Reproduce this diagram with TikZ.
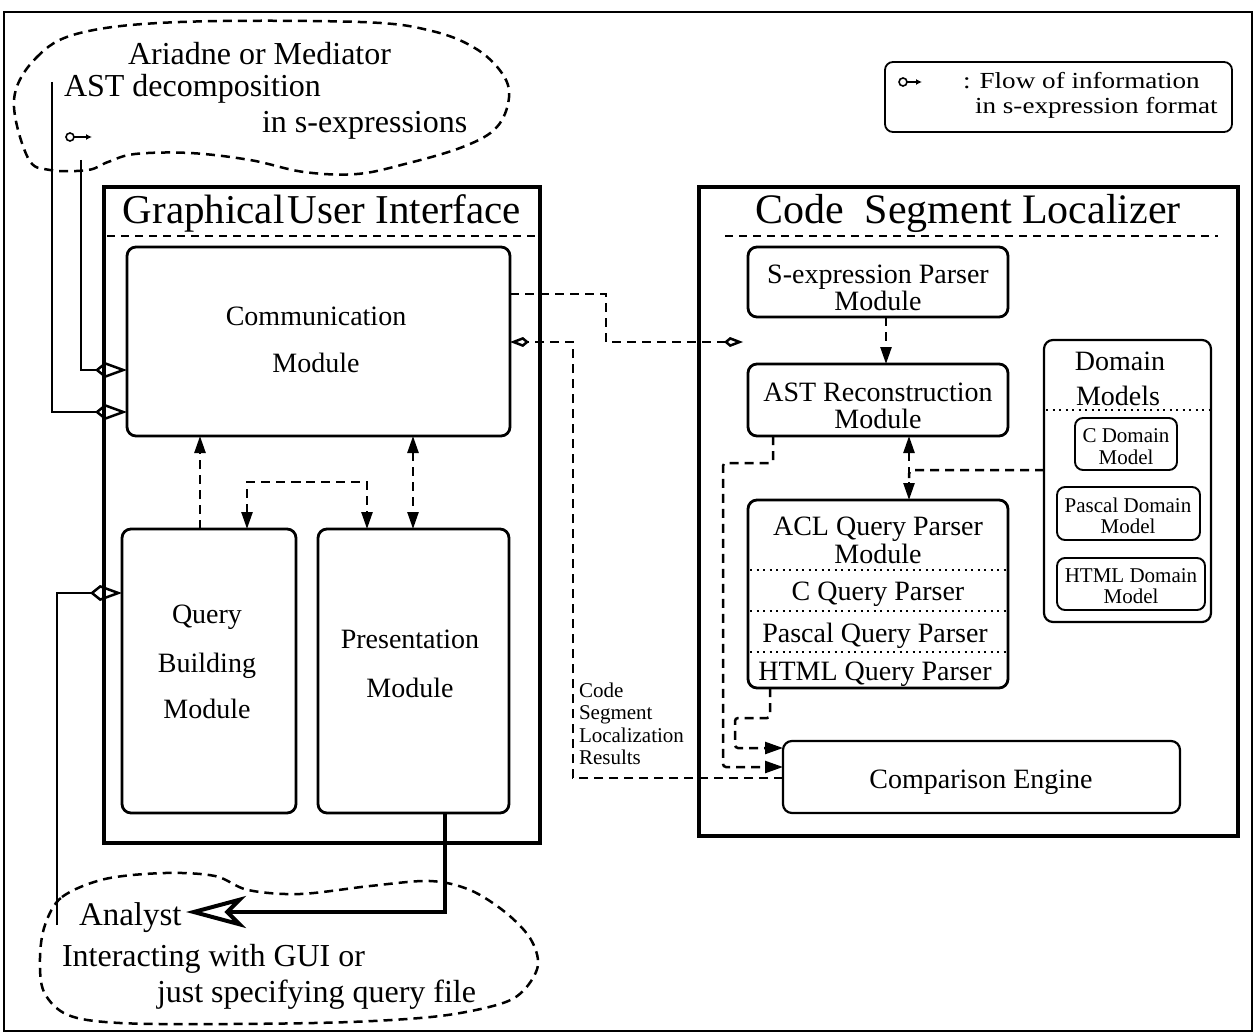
\documentclass[tikz,border=0pt]{standalone}
\usepackage{fontspec}
\setmainfont{Liberation Serif}
\usetikzlibrary{arrows.meta,fit}

\begin{document}
\begin{tikzpicture}[x=1pt,y=-1pt,
  every node/.style={inner sep=0pt, outer sep=0pt},
  frame/.style={draw, line width=4pt},
  modbox/.style={draw, line width=2.8pt, rounded corners=9pt},
  subbox/.style={draw, line width=1.9pt, rounded corners=8pt},
  dsh/.style={line width=2.5pt, dash pattern=on 9pt off 6pt},
  dots/.style={line width=1.8pt, dash pattern=on 2pt off 4.5pt},
  solid line/.style={line width=2.5pt},
  tri/.tip={Triangle[length=17pt,width=11pt]},
  smalltri/.tip={Triangle[length=18pt,width=12pt]},
  bigkite/.tip={Kite[open,length=32pt,width=16pt,inset=10pt]},
  smallkite/.tip={Kite[open,length=19pt,width=10pt,inset=6pt]},
  bigtitle/.style={font=\fontsize{41}{44}\selectfont, anchor=base},
  ctext/.style={font=\fontsize{32}{34}\selectfont, anchor=base west},
  mtxt/.style={font=\fontsize{28}{30}\selectfont, anchor=base},
  stxt/.style={font=\fontsize{21}{23}\selectfont, anchor=base},
  ltxt/.style={font=\fontsize{23}{25}\selectfont, anchor=base west},
  rtxt/.style={font=\fontsize{21}{23}\selectfont, anchor=base west}
]
\useasboundingbox (0,0) rectangle (1257,1035);

% page frame
\draw[line width=1.6pt] (4,12) rectangle (1252,1031);

% ---------- external tool cloud ----------
\draw[dsh] plot[smooth cycle, tension=0.6] coordinates {
  (14,100) (36,58) (80,33) (180,22) (360,22) (432,31) (478,50) (505,78)
  (508,104) (494,130) (460,148) (405,164) (357,174) (304,172) (250,160)
  (190,153) (135,154) (108,162) (88,170) (50,170) (28,158)};
\node[ctext] (ariadne) at (128,65) {Ariadne or Mediator};
\node[ctext] (astdec) at (64,97) {AST decomposition};
\node[ctext] (insexp) at (262,133) {in s-expressions};
\draw[line width=1.6pt] (70,137) circle (4);
\draw[line width=1.6pt, -{Latex[length=6pt,width=6pt]}] (74,137) -- (92,137);

% ---------- legend ----------
\node[draw, line width=1.8pt, rounded corners=8pt, fit={(885,62) (1232,132)}] (legend) {};
\draw[line width=1.6pt] (903,82) circle (4);
\draw[line width=1.6pt, -{Latex[length=6pt,width=6pt]}] (907,82) -- (922,82);
\node[ltxt] (leg1) at (963,89) {\scalebox{1.18}[1]{: Flow of information}};
\node[ltxt] (leg2) at (975,114) {\scalebox{1.18}[1]{in s-expression format}};

% ---------- graphical user interface ----------
\node[frame, fit={(104,187) (540,843)}] (gui) {};
\node[bigtitle] (guititle) at (322,223) {Graphical\hspace{0.08em}User Interface};
\draw[dsh, line width=2pt, dash pattern=on 8pt off 6pt] (107,236) -- (537,236);

\node[modbox, fit={(127,247) (510,436)}] (comm) {};
\node[mtxt] (comm1) at (316,325) {Communication};
\node[mtxt] (comm2) at (316,372) {Module};

\node[modbox, fit={(122,529) (296,813)}] (query) {};
\node[mtxt] (q1) at (207,623) {Query};
\node[mtxt] (q2) at (207,672) {Building};
\node[mtxt] (q3) at (207,718) {Module};

\node[modbox, fit={(318,529) (509,813)}] (pres) {};
\node[mtxt] (p1) at (410,648) {Presentation};
\node[mtxt] (p2) at (410,697) {Module};

% ---------- code segment localizer ----------
\node[frame, fit={(699,187) (1238,836)}] (csl) {};
\node[bigtitle, font=\fontsize{42}{44}\selectfont] (csltitle) at (968,223) {Code\hspace{0.5em}Segment Localizer};
\draw[dsh, line width=2pt, dash pattern=on 8pt off 6pt] (725,236) -- (1218,236);

\node[modbox, fit={(748,247) (1008,317)}] (sexp) {};
\node[mtxt] (s1) at (878,283) {S-expression Parser};
\node[mtxt] (s2) at (878,310) {Module};

\node[modbox, fit={(748,364) (1008,436)}] (ast) {};
\node[mtxt] (a1) at (878,401) {AST Reconstruction};
\node[mtxt] (a2) at (878,428) {Module};

\node[modbox, fit={(748,500) (1008,688)}] (acl) {};
\node[mtxt] (acl1) at (878,535) {ACL Query Parser};
\node[mtxt] (acl2) at (878,563) {Module};
\draw[dots] (750,570) -- (1006,570);
\node[mtxt] (cqp) at (878,600) {C Query Parser};
\draw[dots] (750,611) -- (1006,611);
\node[mtxt] (pqp) at (875,642) {Pascal Query Parser};
\draw[dots] (750,652) -- (1006,652);
\node[mtxt] (hqp) at (875,680) {HTML Query Parser};

\node[modbox, line width=2.2pt, fit={(1044,340) (1211,622)}] (dom) {};
\node[mtxt] (d1) at (1120,370) {Domain};
\node[mtxt] (d2) at (1118,405) {Models};
\draw[dots] (1046,410) -- (1209,410);
\node[subbox, fit={(1075,418) (1177,470)}] (cdom) {};
\node[stxt] (cd1) at (1126,442) {C Domain};
\node[stxt] (cd2) at (1126,464) {Model};
\node[subbox, fit={(1057,487) (1200,540)}] (pdom) {};
\node[stxt] (pd1) at (1128,512) {Pascal Domain};
\node[stxt] (pd2) at (1128,533) {Model};
\node[subbox, fit={(1057,558) (1205,610)}] (hdom) {};
\node[stxt] (hd1) at (1131,582) {HTML Domain};
\node[stxt] (hd2) at (1131,603) {Model};

\node[modbox, line width=2.2pt, fit={(783,741) (1180,813)}] (comp) {};
\node[mtxt] (comp1) at (981,788) {Comparison Engine};

% results label
\node[rtxt] (r1) at (579,697) {Code};
\node[rtxt] (r2) at (579,719) {Segment};
\node[rtxt] (r3) at (579,742) {Localization};
\node[rtxt] (r4) at (579,764) {Results};

% ---------- analyst cloud ----------
\draw[dsh] plot[smooth cycle, tension=0.55] coordinates {
  (45,925) (62,897) (105,879) (165,873) (215,876) (248,890) (300,894)
  (370,886) (430,881) (470,890) (505,912) (530,938) (538,965) (524,990)
  (500,1004) (440,1016) (350,1022) (230,1024) (120,1023) (68,1015)
  (44,992) (40,958)};
\node[ctext, font=\fontsize{33}{35}\selectfont] (analyst) at (79,925) {Analyst};
\node[ctext] (inter) at (62,966) {Interacting with GUI or};
\node[ctext] (just) at (157,1002) {just specifying query file};

% ---------- connectors ----------
\coordinate (a0) at (52,82);
\coordinate (ya) at (0,412);
\coordinate (b0) at (81,160);
\coordinate (yb) at (0,370);
\coordinate (q0) at (57,925);
\coordinate (yq) at (0,593);
\draw[solid line, -{bigkite}] (a0) |- (comm.west |- ya);
\draw[solid line, -{bigkite}] (b0) |- (comm.west |- yb);
\draw[solid line, -{bigkite}] (q0) |- (query.west |- yq);

% s-expressions out of / into the communication module
\coordinate (u1) at (606,294);
\coordinate (sxin) at (743,342);
\draw[dsh, -{smallkite}] (comm.east |- u1) -- (u1) |- (sxin);
\coordinate (rs1) at (573,778);
\coordinate (rs2) at (573,342);
\draw[dsh, -{smallkite}] (comp.west |- rs1) -- (rs1) -- (rs2) -- (comm.east |- rs2);

% inside the interface
\coordinate (x200) at (200,0);
\coordinate (x247) at (247,0);
\coordinate (x367) at (367,0);
\coordinate (x413) at (413,0);
\coordinate (brk) at (300,482);
\draw[dsh, -{tri}] (query.north -| x200) -- (comm.south -| x200);
\draw[dsh, {tri}-{tri}] (query.north -| x247) |- (brk) -| (pres.north -| x367);
\draw[dsh, {tri}-{tri}] (comm.south -| x413) -- (pres.north -| x413);

% inside the localizer
\coordinate (x886) at (886,0);
\coordinate (x909) at (909,0);
\coordinate (dj) at (909,470);
\draw[dsh, -{tri}] (sexp.south -| x886) -- (ast.north -| x886);
\draw[dsh, {tri}-{tri}] (ast.south -| x909) -- (acl.north -| x909);
\draw[dsh, rounded corners=4pt] (dom.west |- dj) -- (dj) -- (909,478);
\coordinate (x773) at (773,0);
\coordinate (k1) at (723,463);
\coordinate (y767) at (0,767);
\draw[dsh, rounded corners=3pt, -{smalltri}] (ast.south -| x773) |- (k1) |- (comp.west |- y767);
\coordinate (x770) at (770,0);
\coordinate (k2) at (735,718);
\coordinate (y748) at (0,748);
\draw[dsh, rounded corners=3pt, -{smalltri}] (acl.south -| x770) |- (k2) |- (comp.west |- y748);

% presentation output to the analyst
\coordinate (x445) at (445,0);
\coordinate (an) at (186,912);
\draw[line width=4pt, -{Stealth[open,length=60pt,width=32pt,inset=16pt]}] (pres.south -| x445) |- (an);
\end{tikzpicture}
\end{document}
